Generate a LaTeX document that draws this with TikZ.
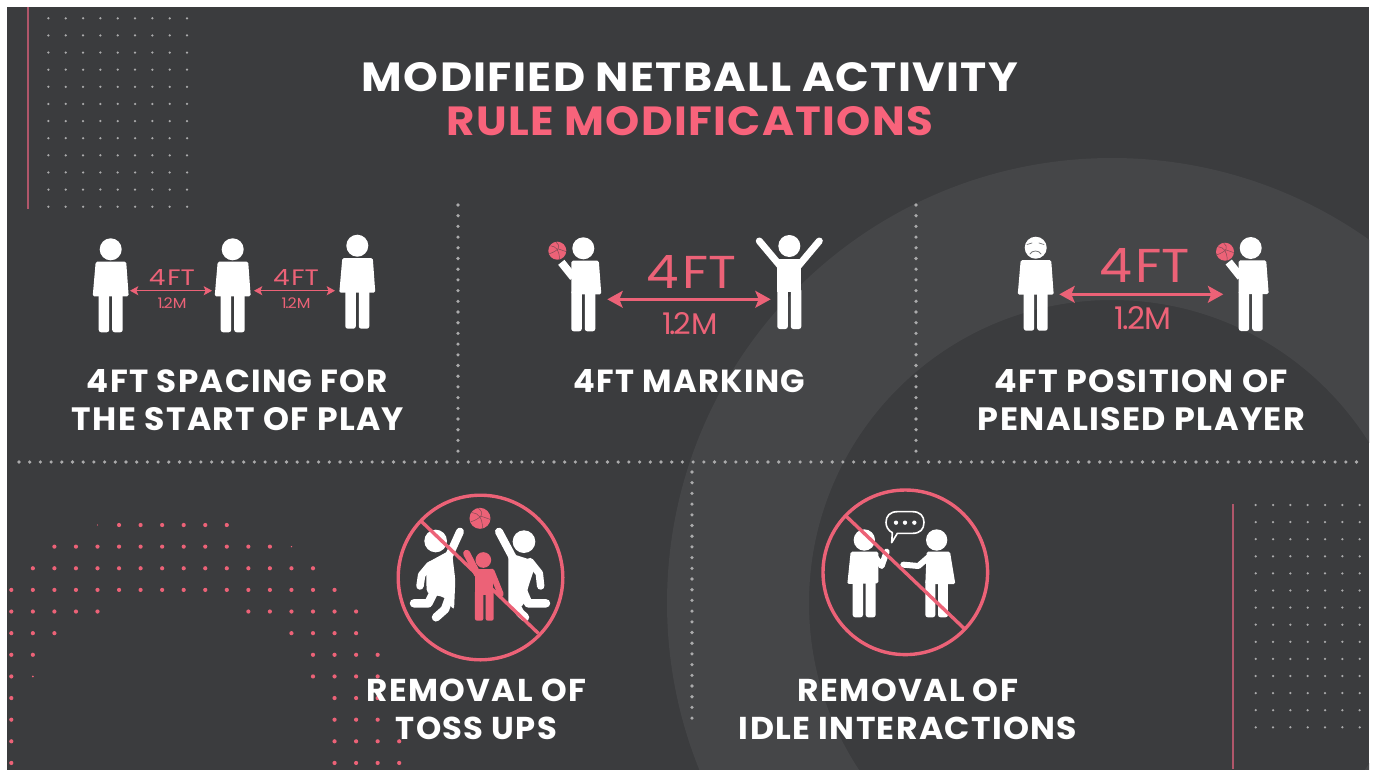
\documentclass[tikz,border=0pt]{standalone}
\usepackage{fontspec}
\setmainfont{Poppins}
\newfontfamily\dimface{Poppins}
\usetikzlibrary{arrows.meta}
\definecolor{panel}{HTML}{3B3C3E}
\definecolor{ringc}{HTML}{454648}
\definecolor{pinkc}{HTML}{EC6277}
\definecolor{titlepink}{HTML}{F8637B}
\definecolor{linec}{HTML}{B0566A}
\definecolor{dotc}{HTML}{ABABAC}
\definecolor{facec}{HTML}{77787A}
\newcommand\fitw[3]{\resizebox{#1pt}{#2pt}{#3}}
\newcommand\fourft{4\kern.07em FT}
\newcommand\onetwo{1\kern-.08em.\kern-.06em 2M}
\tikzset{
  x=1pt,y=-1pt,
  headline/.style={inner sep=0pt,text=white,font=\bfseries\addfontfeature{LetterSpace=3}},
  pinkline/.style={inner sep=0pt,text=titlepink,font=\bfseries\addfontfeature{LetterSpace=3}},
  caption/.style={inner sep=0pt,text=white,font=\bfseries\addfontfeature{LetterSpace=4}},
  dim/.style={inner sep=0pt,text=pinkc,font=\dimface},
  dimarrow/.style={draw=pinkc,line width=#1,{Stealth[length=5.5*#1,width=6*#1,inset=1.2*#1]}-{Stealth[length=5.5*#1,width=6*#1,inset=1.2*#1]}},
  slash/.style={draw=pinkc,line width=3.4pt},
  limb/.style={draw=white,line width=7pt,line cap=round,line join=round},
  pics/legs/.style={code={
    \fill[white,rounded corners=2.5pt] (-12,42) -- (-1.5,42) -- (-1.5,83) -- (-12,83) -- cycle;
    \fill[white,rounded corners=2.5pt] (1.5,42) -- (12,42) -- (12,83) -- (1.5,83) -- cycle;
  }},
  pics/person/.style={code={
    \fill[white] (0,0) circle (11);
    \fill[white,rounded corners=1.5pt] (-15,12.4) -- (15.5,12.4) -- (18,47) -- (-18,47) -- cycle;
    \pic {legs};
  }},
  pics/thrower/.style={code={
    \fill[white] (0,0) circle (11);
    \fill[white,rounded corners=1.5pt] (-12,12.4) -- (15.5,12.4) -- (18,46) -- (-12,46) -- cycle;
    \draw[limb,line width=8pt,line cap=butt] (-10,29) -- (-22,14);
    \pic {legs};
  }},
  pics/armsup/.style={code={
    \fill[white] (0,0) circle (11);
    \fill[white] (-12,13) rectangle (12,46);
    \draw[limb] (-9,20) -- (-30,-5);
    \draw[limb] (9,20) -- (30,-5);
    \pic {legs};
  }},
  pics/ball/.style={code={
    \fill[pinkc] (0,0) circle (#1);
    \draw[panel!60!pinkc,line width=.5pt] (-.75*#1,-.55*#1) .. controls (-.1*#1,-.45*#1) and (.2*#1,-.1*#1) .. (.25*#1,.95*#1);
    \draw[panel!60!pinkc,line width=.5pt] (-.15*#1,-.97*#1) .. controls (.4*#1,-.5*#1) and (.3*#1,-.1*#1) .. (-.9*#1,.35*#1);
    \draw[panel!60!pinkc,line width=.5pt] (.1*#1,-.2*#1) .. controls (.4*#1,-.1*#1) and (.7*#1,0) .. (.97*#1,.1*#1);
  }},
}
\begin{document}
\begin{tikzpicture}
\useasboundingbox (0,0) rectangle (1375,769);
\fill[white] (0,0) rectangle (1375,769);
\fill[panel] (7,7) rectangle (1369,770);

% large ring
\begin{scope}
  \clip (7,7) rectangle (1369,770);
  \fill[ringc,even odd rule] (1112,603) circle (445) (1112,603) circle (303);
\end{scope}

% corner rules and dot fields
\coordinate (ruleA1) at (28,7); \coordinate (ruleA2) at (28,209);
\coordinate (ruleB1) at (1233,504); \coordinate (ruleB2) at (1233,769);
\draw[linec,line width=2pt] (ruleA1) -- (ruleA2);
\draw[linec,line width=2pt] (ruleB1) -- (ruleB2);
\foreach \c in {0,...,8} \foreach \r in {0,...,11}
  \fill[dotc] ({48.4+17.33*\c},{18.3+17.13*\r}) circle (1.25);
\foreach \c in {0,...,6} \foreach \r in {0,...,13}
  \fill[dotc] ({1255.7+17.33*\c},{505+17.1*\r}) circle (1.25);

% pink dot field
\foreach \r/\a/\b in {0/5/10,1/2/12,2/1/14,3/0/15,4/0/4,4/11/16,5/0/2,5/13/16,6/0/1,6/14/17,7/0/0,7/14/17,8/0/0,8/15/17,9/0/0,9/15/17,10/0/0,10/15/18,11/0/0,11/15/18}
  \foreach \k in {\a,...,\b}
    \fill[pinkc] ({11.3+21.55*\k},{525+21.63*\r}) circle (2.1);
\fill[pinkc] ({11.3+21.55},{525+21.63*7}) circle (1);
\fill[pinkc] ({11.3+21.55*4},525) circle (.7);
\fill[pinkc] ({11.3+21.55*13},546.6) circle (.8);

% dotted separators
\foreach \i in {0,...,23} {
  \fill[dotc] (458,{205+10.7*\i}) circle (1.8);
  \fill[dotc] (916,{205+10.7*\i}) circle (1.8);
}
\foreach \i in {0,...,125} \fill[dotc] ({19+10.7*\i},462) circle (1.8);
\foreach \i in {0,...,23} \fill[dotc] (692,{472+10.7*\i}) circle (1.8);

% title
\node[headline] (title1) at (690,77.5) {\fitw{656}{29}{MODIFIED NETBALL ACTIVITY}};
\node[pinkline] (title2) at (690,120.8) {\fitw{486}{29}{RULE MODIFICATIONS}};

% panel 1
\pic at (110.7,249.3) {person};
\pic at (232.7,249.3) {person};
\pic at (357.3,245.7) {person};
\coordinate (a1) at (130,290.7); \coordinate (a2) at (212,290.7);
\coordinate (a3) at (254,290.7); \coordinate (a4) at (335,290.7);
\draw[dimarrow=1.5pt] (a1) -- (a2);
\draw[dimarrow=1.5pt] (a3) -- (a4);
\node[dim] (d1) at (172,277) {\fitw{46}{16}{\fourft}};
\node[dim] (d2) at (296,277) {\fitw{46}{16}{\fourft}};
\node[dim] (m1) at (172,303.6) {\fitw{29}{10.7}{\onetwo}};
\node[dim] (m2) at (296,303.6) {\fitw{29}{10.7}{\onetwo}};
\node[caption] (c1a) at (237.5,381.5) {\fitw{301}{23}{4FT SPACING FOR}};
\node[caption] (c1b) at (238,419.5) {\fitw{332}{23}{THE START OF PLAY}};

% panel 2
\pic at (583.3,248.3) {thrower};
\pic at (557.3,250.7) {ball=9};
\pic at (789.3,246) {armsup};
\coordinate (b1) at (607.3,299.3); \coordinate (b2) at (770.7,299.3);
\draw[dimarrow=2.8pt] (b1) -- (b2);
\node[dim] (d3) at (691.7,271.5) {\fitw{90}{33}{\fourft}};
\node[dim] (m3) at (690,324) {\fitw{56}{22}{\onetwo}};
\node[caption] (c2) at (689.5,381.5) {\fitw{231}{23}{4FT MARKING}};

% panel 3
\pic at (1035.7,247.7) {person};
\pic at (1250.7,248) {thrower};
\pic at (1225,251.7) {ball=9};
\draw[facec,line width=.7pt,line cap=round] (1027,244.5) -- (1032,243);
\draw[facec,line width=.7pt,line cap=round] (1044,244.5) -- (1039,243);
\draw[facec,line width=.8pt,line cap=round] (1030,254) .. controls (1032,250) and (1039,250) .. (1041,254);
\coordinate (c1) at (1059.3,294.3); \coordinate (c2) at (1223.3,294.3);
\draw[dimarrow=2.8pt] (c1) -- (c2);
\node[dim] (d4) at (1144.7,265) {\fitw{91}{34}{\fourft}};
\node[dim] (m4) at (1143.3,318.5) {\fitw{57}{23}{\onetwo}};
\node[caption] (c3a) at (1141.5,381.5) {\fitw{293}{23}{4FT POSITION OF}};
\node[caption] (c3b) at (1141.5,419.5) {\fitw{327}{23}{PENALISED PLAYER}};

% toss-up sign
\begin{scope}[shift={(380,480)},x=.3333pt,y=-.3333pt]
  \pic at (300,115) {ball=31.5};
  % left jumper
  \fill[white] (167,183) circle (34);
  \fill[white,rounded corners=4pt] (138,250) -- (215,208) -- (226,300) -- (222,392) -- (195,352) -- (140,340) -- cycle;
  \draw[limb,line width=8pt] (205,232) -- (240,155);
  \draw[limb,line width=7.5pt] (150,255) -- (125,285) -- (120,318);
  \draw[limb,line width=8.5pt] (165,330) -- (145,370) -- (102,370);
  \draw[limb,line width=8.5pt] (205,360) -- (195,388) -- (168,412);
  % right jumper
  \fill[white] (432,185) circle (34);
  \fill[white,rounded corners=4pt] (385,218) -- (470,245) -- (445,320) -- (430,380) -- (385,380) -- cycle;
  \draw[limb,line width=8pt] (398,232) -- (357,155);
  \draw[limb,line width=7.5pt] (450,245) -- (478,280) -- (482,318);
  \draw[limb,line width=8.5pt] (430,335) -- (445,370) -- (498,370);
  \draw[limb,line width=8.5pt] (400,360) -- (420,398) -- (435,412);
  % child
  \fill[pinkc] (310,240) circle (23.5);
  \fill[pinkc] (285,267) rectangle (340,345);
  \draw[pinkc,line width=7pt,line cap=round] (292,282) -- (260,220);
  \draw[pinkc,line width=6pt,line cap=round] (335,275) -- (362,342);
  \fill[pinkc,rounded corners=2pt] (285,330) -- (310,330) -- (310,422) -- (285,422) -- cycle;
  \fill[pinkc,rounded corners=2pt] (317,330) -- (341,330) -- (341,422) -- (317,422) -- cycle;
  \coordinate (s1a) at (125,125); \coordinate (s1b) at (475,460);
\end{scope}
\coordinate (s1c) at (480.5,577.5);
\draw[slash] (s1c) circle (82.3);
\draw[slash] (s1a) -- (s1b);

% idle sign
\begin{scope}[shift={(810,480)},x=.3333pt,y=-.3333pt]
  % left person
  \fill[white] (163,180) circle (32);
  \fill[white,rounded corners=1.5pt] (122,215) -- (205,215) -- (205,310) -- (112,312) -- cycle;
  \fill[white,rounded corners=2.5pt] (128,300) -- (159,300) -- (159,412) -- (128,412) -- cycle;
  \fill[white,rounded corners=2.5pt] (167,300) -- (197,300) -- (197,412) -- (167,412) -- cycle;
  \draw[limb,line width=6pt,line join=round] (195,230) -- (215,258) -- (230,215);
  % right person
  \fill[white] (380,180) circle (32);
  \fill[white,rounded corners=1.5pt] (350,215) -- (420,215) -- (436,312) -- (346,312) -- cycle;
  \fill[white,rounded corners=2.5pt] (346,300) -- (376,300) -- (376,412) -- (346,412) -- cycle;
  \fill[white,rounded corners=2.5pt] (384,300) -- (414,300) -- (414,412) -- (384,412) -- cycle;
  \draw[limb,line width=6pt,line join=round] (355,232) -- (325,258) -- (280,254);
  % speech bubble
  \draw[white,line width=1.6pt,line join=round,fill=panel] (262,95) -- (308,95) .. controls (330,95) and (342,108) .. (342,127) .. controls (342,148) and (330,160) .. (308,160) -- (262,160) -- (245,188) -- (247,158) .. controls (235,152) and (228,140) .. (228,127) .. controls (228,108) and (240,95) .. (262,95) -- cycle;
  \foreach \dx in {258,285,313} \fill[white] (\dx,128) circle (6.5);
  \coordinate (s2a) at (110,110); \coordinate (s2b) at (462,445);
\end{scope}
\coordinate (s2c) at (905.3,572.3);
\draw[slash] (s2c) circle (82.3);
\draw[slash] (s2a) -- (s2b);

% bottom captions
\node[caption] (c4a) at (476.5,690.5) {\fitw{219}{22.5}{REMOVAL OF}};
\node[caption] (c4b) at (476.5,728) {\fitw{161}{22.5}{TOSS UPS}};
\node[caption] (c5a) at (908,690.5) {\fitw{220}{22.5}{REMOVAL OF}};
\node[caption] (c5b) at (908,728) {\fitw{338}{22.5}{IDLE INTERACTIONS}};
\end{tikzpicture}
\end{document}
